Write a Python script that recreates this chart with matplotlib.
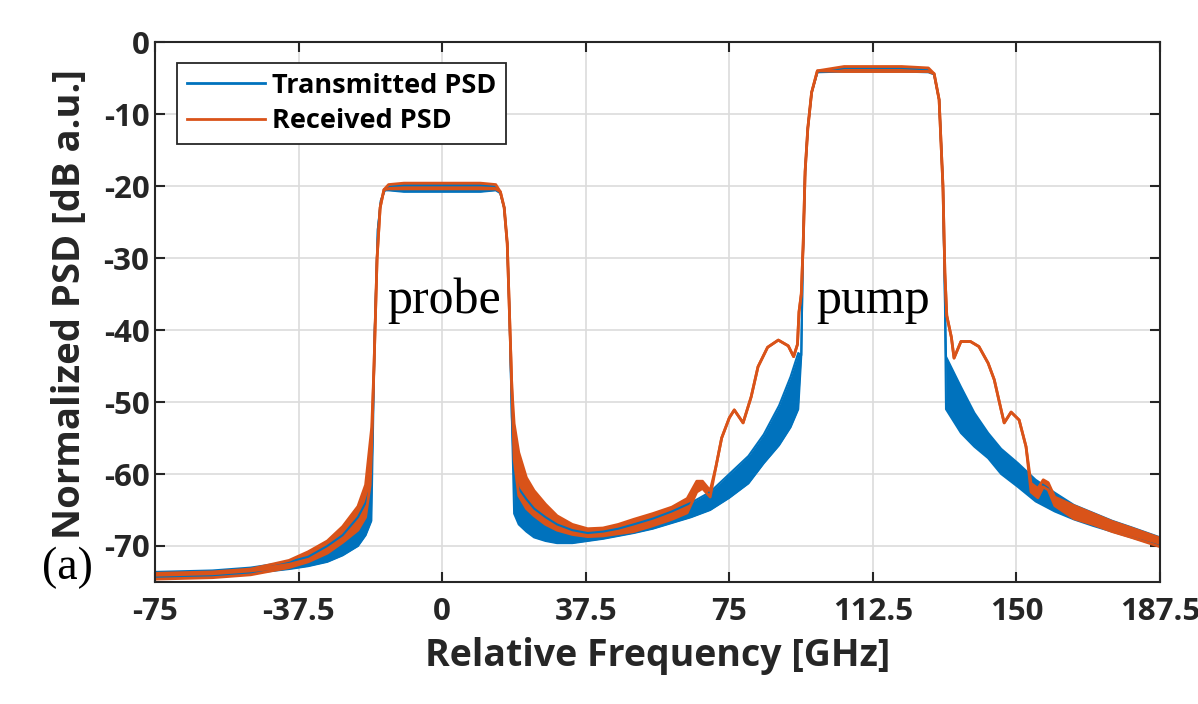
import numpy as np
import matplotlib
matplotlib.use('Agg')
import matplotlib.pyplot as plt
from matplotlib.lines import Line2D

plt.rcParams['axes.unicode_minus'] = False

# Dados (frequência em GHz, PSD em dB)
# cada série tem envelope superior e inferior (faixa do ripple)

freq_tx = [-75, -60, -50, -40, -35, -30, -26, -22, -20, -18.5, -17.6, -16.8, -16, -15, -14,
           -10, 0, 10, 14, 15.2, 16.2, 17, 17.6, 18.2, 18.8, 20, 22, 24, 27, 30, 34, 38, 42,
           46, 50, 55, 60, 65, 70, 75, 80, 84, 88, 91, 93, 93.8, 94.2, 94.8, 95.5, 96.5, 98,
           105, 112.5, 120, 127, 128.5, 129.8, 130.8, 131.3, 131.6, 135.5, 139, 142.6, 146,
           150.4, 155, 160, 165, 170, 175, 180, 187.5]
sup_tx = [-73.6, -73.4, -73.0, -72.2, -71.5, -70.0, -68.5, -66.0, -64.0, -61.5, -40, -26, -22,
          -20.6, -20.0, -19.9, -19.9, -19.9, -20.0, -21, -23, -28, -38, -52, -60.0, -62.0,
          -63.5, -64.8, -66.0, -67.0, -67.8, -68.2, -68.0, -67.6, -67.0, -66.2, -65.2, -64.0,
          -62.5, -60.0, -57.5, -54.5, -50.5, -46.5, -43.2, -43.5, -30, -18, -12, -7, -4.2,
          -3.6, -3.6, -3.6, -3.8, -4.5, -8, -20, -35, -43.7, -47.9, -51.5, -54.3, -56.5,
          -58.5, -60.8, -62.6, -64.3, -65.4, -66.5, -67.4, -68.8]
inf_tx = [-74.4, -74.2, -73.8, -73.2, -72.8, -72.2, -71.3, -70.0, -68.5, -66.5, -40, -26, -22,
          -20.6, -20.6, -20.8, -20.8, -20.8, -20.6, -21, -23, -28, -38, -52, -65.5, -67.0,
          -68.0, -68.8, -69.3, -69.6, -69.6, -69.3, -69.0, -68.6, -68.2, -67.6, -66.8, -66.0,
          -65.0, -63.3, -61.3, -58.5, -56.0, -53.5, -51.0, -43.5, -30, -18, -12, -7, -4.2,
          -4.1, -4.1, -4.1, -4.2, -4.5, -8, -20, -35, -51.0, -54.3, -56.2, -57.8, -60.0,
          -61.8, -63.8, -65.2, -66.3, -67.2, -68.0, -68.8, -70.0]

freq_rx = [-75, -60, -50, -40, -35, -30, -26, -22, -20, -18.8, -18.4, -17.8, -17, -16.2, -15.2,
           -14, -10, 0, 10, 14, 15.2, 16.2, 17, 17.6, 18.2, 18.8, 20, 22, 24, 27, 30, 34, 38,
           42, 46, 50, 55, 60, 64, 66.5, 68, 70, 71.5, 73, 75, 76.3, 78.6, 80.7, 82.5, 85,
           87.8, 90.4, 91.8, 92.8, 93.2, 93.8, 94.3, 94.8, 95.5, 96.5, 98, 105, 112.5, 120,
           127, 128.5, 129.8, 130.8, 131.3, 131.8, 133, 133.7, 135.5, 138, 140.2, 142.6,
           144.2, 146, 146.8, 148.6, 150.7, 152.5, 153.8, 155.6, 157, 158.3, 160, 165, 170,
           175, 180, 187.5]
sup_rx = [-73.8, -73.6, -73.2, -72.0, -70.8, -69.3, -67.3, -64.5, -61.5, -55.5, -53.5, -45,
          -30, -23, -20.5, -19.8, -19.6, -19.6, -19.6, -19.8, -20.8, -23, -28, -38, -48,
          -53.0, -57.0, -60.5, -62.3, -64.2, -65.8, -67.0, -67.6, -67.5, -67.0, -66.3, -65.5,
          -64.6, -63.4, -61.0, -61.0, -62.3, -59.0, -55.0, -52.2, -51.1, -52.9, -49.3, -45.1,
          -42.4, -41.4, -42.2, -43.7, -42.0, -37.5, -35, -28, -18, -12, -7, -4.0, -3.4, -3.4,
          -3.4, -3.6, -4.4, -8, -20, -32, -38, -41.0, -43.9, -41.6, -41.6, -42.3, -44.6,
          -46.9, -51.1, -52.9, -51.4, -52.5, -56.2, -61.3, -62.0, -60.8, -61.2, -63.2, -64.4,
          -65.5, -66.6, -67.5, -68.9]
inf_rx = [-74.6, -74.4, -74.0, -73.0, -72.2, -71.0, -69.5, -67.8, -66.0, -61.5, -56.0, -45,
          -30, -23, -20.5, -20.4, -20.4, -20.4, -20.4, -20.4, -20.8, -23, -28, -38, -48,
          -58.0, -63.0, -64.8, -65.8, -67.0, -67.8, -68.4, -68.7, -68.6, -68.3, -68.0, -67.2,
          -66.3, -65.4, -62.5, -62.0, -63.2, -59.0, -55.0, -52.2, -51.1, -52.9, -49.3, -45.1,
          -42.4, -41.4, -42.2, -43.7, -42.0, -37.5, -35, -28, -18, -12, -7, -4.0, -4.1, -4.1,
          -4.1, -4.1, -4.4, -8, -20, -32, -38, -41.0, -43.9, -41.6, -41.6, -42.3, -44.6,
          -46.9, -51.1, -52.9, -51.4, -52.5, -56.2, -62.5, -63.3, -61.8, -62.2, -64.4, -66.2,
          -67.0, -68.0, -68.8, -70.1]

xticks = [-75, -37.5, 0, 37.5, 75, 112.5, 150, 187.5]
xtick_labels = ['-75', '-37.5', '0', '37.5', '75', '112.5', '150', '187.5']
yticks = [0, -10, -20, -30, -40, -50, -60, -70]

azul = '#0072BD'
laranja = '#D95319'
cinza = '#262626'

fig = plt.figure(figsize=(11.98, 7.04), dpi=100)
ax = fig.add_axes([0.1294, 0.1733, 0.8389, 0.7670])

# transmitido
ax.fill_between(freq_tx, inf_tx, sup_tx, color=azul, lw=0)
ax.plot(freq_tx, sup_tx, color=azul, lw=1.5)
ax.plot(freq_tx, inf_tx, color=azul, lw=1.5)

# recebido
ax.fill_between(freq_rx, inf_rx, sup_rx, color=laranja, lw=0)
ax.plot(freq_rx, sup_rx, color=laranja, lw=2)
ax.plot(freq_rx, inf_rx, color=laranja, lw=2)

ax.set_xlim(-75, 187.5)
ax.set_ylim(-75, 0)
ax.set_xticks(xticks)
ax.set_xticklabels(xtick_labels)
ax.set_yticks(yticks)

for lab in ax.get_xticklabels() + ax.get_yticklabels():
    lab.set_fontfamily('Open Sans')
    lab.set_fontweight('bold')
    lab.set_fontsize(22.5)
    lab.set_color(cinza)

ax.tick_params(direction='in', length=7, width=1.5, color=cinza, top=True, right=True)
ax.tick_params(axis='x', pad=11)
ax.tick_params(axis='y', pad=4)
ax.grid(True, color='#dcdcdc', lw=1.2)
ax.set_axisbelow(True)
for s in ax.spines.values():
    s.set_color(cinza)
    s.set_linewidth(1.5)

ax.set_xlabel('Relative Frequency [GHz]', fontfamily='Open Sans', fontweight='bold',
              fontsize=27, color=cinza, labelpad=7)
ax.set_ylabel('Normalized PSD [dB a.u.]', fontfamily='Open Sans', fontweight='bold',
              fontsize=27.5, color=cinza)
ax.yaxis.set_label_coords(-0.066, 0.515)

# anotações
ax.text(0.5, -37.6, 'probe', fontfamily='Liberation Serif', fontsize=36, ha='center',
        va='baseline')
ax.text(112.6, -37.6, 'pump', fontfamily='Liberation Serif', fontsize=36, ha='center',
        va='baseline')
ax.text(-0.087, 0.026, '(a)', transform=ax.transAxes, fontfamily='Liberation Serif',
        fontsize=33, ha='center', va='center')

handles = [Line2D([], [], color=azul, lw=2), Line2D([], [], color=laranja, lw=2)]
leg = ax.legend(handles, ['Transmitted PSD', 'Received PSD'], loc='upper left',
                bbox_to_anchor=(0.022, 0.961), fancybox=False, framealpha=1,
                edgecolor=cinza, handlelength=2.9, handletextpad=0.25, borderpad=0.35,
                labelspacing=0.35, borderaxespad=0,
                prop={'family': 'Open Sans', 'weight': 'bold', 'size': 19.5})
leg.get_frame().set_linewidth(1.3)

fig.savefig('out.png', dpi=100)
